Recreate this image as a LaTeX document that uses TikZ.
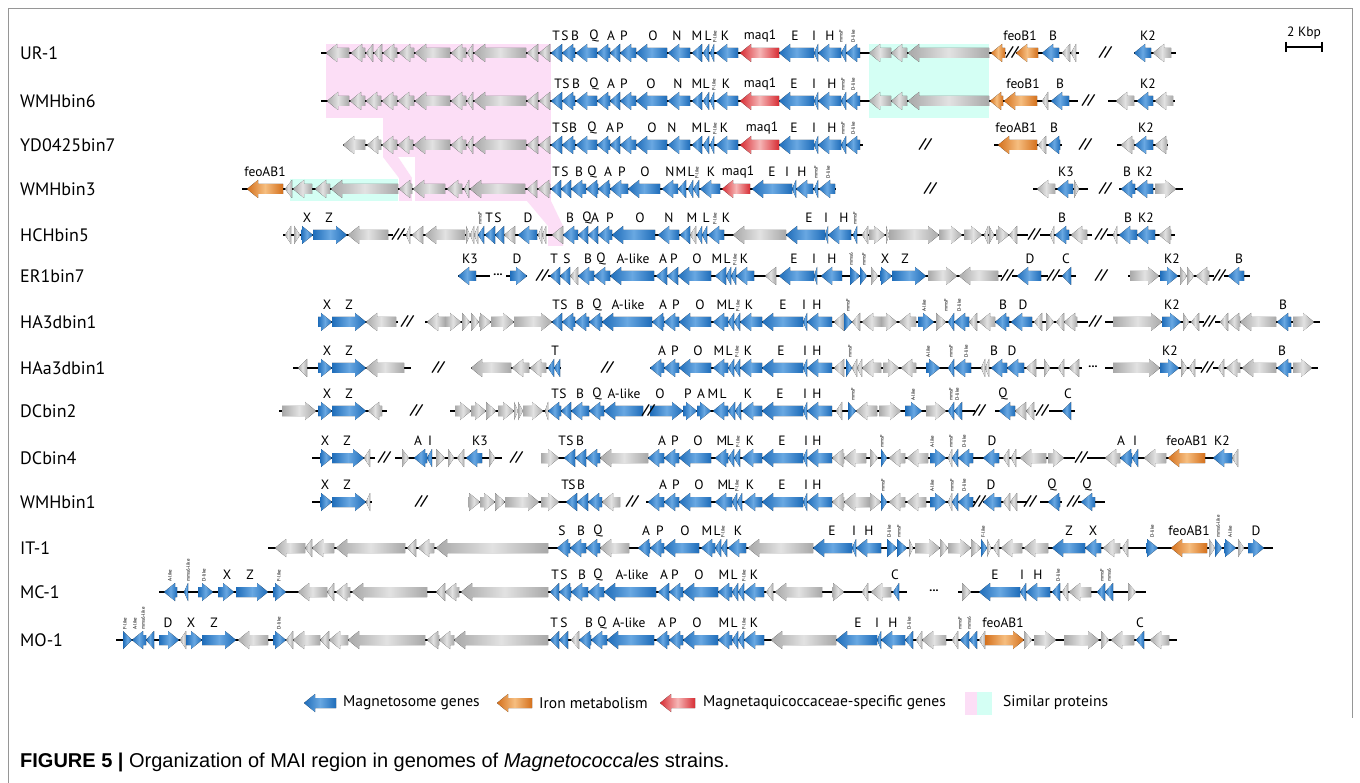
\documentclass[tikz,border=0pt]{standalone}
\usepackage{fontspec}
\setmainfont{PT Sans}
\newfontfamily\capfont{Liberation Sans}
\usepackage{tikz}

\definecolor{bluD}{RGB}{30,108,185}
\definecolor{bluL}{RGB}{105,168,226}
\definecolor{graD}{RGB}{168,168,168}
\definecolor{graL}{RGB}{226,226,226}
\definecolor{oraD}{RGB}{212,112,28}
\definecolor{oraL}{RGB}{246,190,128}
\definecolor{redD}{RGB}{215,45,52}
\definecolor{redL}{RGB}{246,182,182}
\definecolor{simP}{RGB}{252,222,246}
\definecolor{simC}{RGB}{212,255,244}
\definecolor{frameC}{RGB}{150,150,150}

% one gene arrow: y, x1, x2, direction (l/r), colour (B,G,O,R)
\newcommand{\genedraw}[5]{%
  \pgfmathsetmacro\gl{#3-#2}%
  \pgfmathsetmacro\gh{min(11,\gl)}%
  \if#4l%
    \ifdim\gl pt>11pt
      \fill[Gene#5] (#2,#1) -- (#2+\gh,#1-9) -- (#2+\gh,#1-5) -- (#3,#1-5)
        -- (#3,#1+5) -- (#2+\gh,#1+5) -- (#2+\gh,#1+9) -- cycle;
    \else
      \fill[Gene#5] (#2,#1) -- (#3,#1-9) -- (#3,#1+9) -- cycle;
    \fi
  \else
    \ifdim\gl pt>11pt
      \fill[Gene#5] (#3,#1) -- (#3-\gh,#1-9) -- (#3-\gh,#1-5) -- (#2,#1-5)
        -- (#2,#1+5) -- (#3-\gh,#1+5) -- (#3-\gh,#1+9) -- cycle;
    \else
      \fill[Gene#5] (#3,#1) -- (#2,#1-9) -- (#2,#1+9) -- cycle;
    \fi
  \fi}
\newcommand{\gene}[5]{\edef\gtmp{\noexpand\genedraw{#1}{#2}{#3}{#4}{#5}}\gtmp}

% shared magnetosome block of UR-1, WMHbin6, YD0425bin7
\def\maiblue{551/562/l/B, 562/575/l/B, 576/597/l/B, 597/610/l/B, 610/620/l/B,
  620/636/l/B, 636/667/l/B, 668/690/l/B, 692/702/l/B, 703/709/l/B, 710/714/l/B,
  716/738/l/B, 740/779/l/R, 779/814/l/B, 814/818/l/B, 818/841/l/B, 841/846/l/B,
  846/860/l/B}

\tikzset{
  GeneB/.style={left color=bluD, right color=bluD, middle color=bluL},
  GeneG/.style={left color=graD, right color=graD, middle color=graL},
  GeneO/.style={left color=oraD, right color=oraD, middle color=oraL},
  GeneR/.style={left color=redD, right color=redD, middle color=redL},
  LineStyle/.style={line width=2.5pt, black},
  GeneLabel/.style={font=\fontsize{13.5}{13.5}\selectfont, inner sep=0pt},
  TinyLabel/.style={font=\fontsize{5}{5}\selectfont, rotate=90, anchor=west, inner sep=0pt},
  StrainLabel/.style={font=\fontsize{18}{18}\selectfont, anchor=west, inner sep=0pt},
  BreakStyle/.style={font=\fontsize{14}{14}\selectfont\itshape\bfseries, inner sep=0pt},
  DotStyle/.style={font=\fontsize{12}{12}\selectfont\bfseries, inner sep=0pt},
  LegendText/.style={font=\fontsize{15.5}{15.5}\selectfont, anchor=west, inner sep=0pt}
}

\begin{document}
\begin{tikzpicture}[x=1pt, y=-1pt]
\useasboundingbox (0,0) rectangle (1360,783);
\fill[white] (0,0) rectangle (1360,783);

% frame
\draw[frameC, line width=1pt] (8.5,783) -- (8.5,8.5) -- (1352,8.5) -- (1352,718);

% similar proteins
\fill[simP] (326,44) rectangle (551,118);
\fill[simP] (383,118) rectangle (551,157);
\fill[simP] (383,157) -- (398,157) -- (412,178) -- (399,178) -- cycle;
\fill[simP] (415,157) rectangle (551,201);
\fill[simP] (399,178) rectangle (412,201);
\fill[simP] (527,201) -- (551,201) -- (563,226) -- (563,246) -- (548,246) -- (548,226) -- cycle;
\fill[simC] (869,44) rectangle (989,118);
\fill[simC] (290,179) rectangle (398,201);

% scale bar
\node[GeneLabel] (kbp) at (1304,33) {2 Kbp};
\draw[line width=1.2pt] (1286,47) -- (1322,47);
\draw[line width=1.2pt] (1286,42) -- (1286,52) (1322,42) -- (1322,52);

% UR-1
\node[StrainLabel] (UR1) at (20,53) {UR-1};
\foreach \a/\b in {321/1006, 1016/1079, 1134/1176} \draw[LineStyle] (\a,53) -- (\b,53);
\foreach \a/\b/\d/\c in {326/349/l/G, 351/365/l/G, 366/373/l/G, 374/382/l/G, 383/397/l/G,
  399/414/l/G, 415/450/l/G, 451/466/l/G, 467/473/l/G, 474/526/l/G, 527/538/l/G, 539/550/l/G,
  869/891/l/G, 891/907/l/G, 908/989/l/G, 991/1005/l/O, 1016/1038/l/O, 1042/1059/l/B,
  1062/1070/l/G, 1071/1076/l/G, 1134/1151/l/B, 1153/1171/l/G} \gene{53}{\a}{\b}{\d}{\c};
\foreach \a/\b/\d/\c in \maiblue \gene{53}{\a}{\b}{\d}{\c};
\foreach \x/\lab in {556/T, 565/S, 575/B, 594/Q, 611/A, 624/P, 653/O, 677/N, 697/M, 708/L,
  725/K, 760/maq1, 795/E, 814/I, 830/H, 1020/feoB1, 1053/B, 1148/K2}
  \node[GeneLabel] at (\x,36) {\lab};
\foreach \x/\lab in {715/F-like, 841/mmsF, 853/D-like} \node[TinyLabel] at (\x,43) {\lab};
\foreach \x in {1012, 1105} \node[BreakStyle] at (\x,53) {//};

% WMHbin6
\node[StrainLabel] (WMHbin6) at (20,101) {WMHbin6};
\foreach \a/\b in {321/1078, 1108/1175} \draw[LineStyle] (\a,101) -- (\b,101);
\foreach \a/\b/\d/\c in {327/349/l/G, 350/365/l/G, 366/381/l/G, 382/397/l/G, 398/414/l/G,
  415/450/l/G, 451/466/l/G, 467/473/l/G, 474/526/l/G, 527/538/l/G, 539/550/l/G,
  869/891/l/G, 891/907/l/G, 908/989/l/G, 990/1003/l/O, 1004/1037/l/O, 1042/1048/l/G,
  1051/1069/l/B, 1116/1134/l/G, 1137/1153/l/B, 1155/1173/l/G} \gene{101}{\a}{\b}{\d}{\c};
\foreach \a/\b/\d/\c in \maiblue \gene{101}{\a}{\b}{\d}{\c};
\foreach \x/\lab in {558/T, 566/S, 576/B, 594/Q, 611/A, 624/P, 651/O, 678/N, 697/M, 706/L,
  726/K, 760/maq1, 794/E, 814/I, 832/H, 1023/feoB1, 1060/B, 1148/K2}
  \node[GeneLabel] at (\x,84) {\lab};
\foreach \x/\lab in {714/F-like, 843/mmsF, 853/D-like} \node[TinyLabel] at (\x,91) {\lab};
\node[BreakStyle] at (1088,101) {//};

% YD0425bin7
\node[StrainLabel] (YD0425bin7) at (20,145) {YD0425bin7};
\foreach \a/\b in {343/863, 994/1062, 1117/1168} \draw[LineStyle] (\a,145) -- (\b,145);
\foreach \a/\b/\d/\c in {343/365/l/G, 367/381/l/G, 382/397/l/G, 398/413/l/G, 414/450/l/G,
  451/466/l/G, 467/473/l/G, 474/526/l/G, 527/538/l/G, 539/550/l/G, 998/1037/l/O,
  1038/1046/l/G, 1048/1060/l/B, 1121/1134/l/G, 1135/1153/l/B, 1155/1167/l/G}
  \gene{145}{\a}{\b}{\d}{\c};
\foreach \a/\b/\d/\c in \maiblue \gene{145}{\a}{\b}{\d}{\c};
\foreach \x/\lab in {556/T, 565/S, 573/B, 592/Q, 610/A, 620/P, 652/O, 672/N, 697/M, 707/L,
  724/K, 762/maq1, 794/E, 814/I, 832/H, 1016/feoAB1, 1054/B, 1146/K2}
  \node[GeneLabel] at (\x,128) {\lab};
\foreach \x/\lab in {715/F-like, 843/mmsF, 853/D-like} \node[TinyLabel] at (\x,135) {\lab};
\foreach \x in {925, 1085} \node[BreakStyle] at (\x,145) {//};

% WMHbin3
\node[StrainLabel] (WMHbin3) at (20,189) {WMHbin3};
\foreach \a/\b in {242/836, 1033/1088, 1119/1183} \draw[LineStyle] (\a,189) -- (\b,189);
\foreach \a/\b/\d/\c in {247/283/l/O, 285/292/l/G, 293/312/l/G, 315/330/l/G, 331/398/l/G,
  399/412/l/G, 413/445/l/G, 447/462/l/G, 464/469/l/G, 470/525/l/G, 527/537/l/G, 538/550/l/G,
  551/561/l/B, 561/571/l/B, 571/586/l/B, 586/598/l/B, 598/610/l/B, 610/628/l/B, 628/660/l/B,
  662/678/l/B, 678/686/l/B, 688/693/l/B, 693/699/l/B, 700/720/l/B, 722/750/l/R, 752/792/l/B,
  792/796/l/B, 796/813/l/B, 814/818/l/B, 819/835/l/B, 1037/1055/l/G, 1057/1073/l/B,
  1074/1079/r/G, 1121/1135/l/B, 1136/1153/l/B, 1155/1176/r/G} \gene{189}{\a}{\b}{\d}{\c};
\foreach \x/\lab in {265/feoAB1, 556/T, 565/S, 579/B, 592/Q, 608/A, 622/P, 645/O, 670/N,
  681/M, 691/L, 711/K, 738/maq1, 772/E, 787/I, 802/H, 1066/K3, 1127/B, 1145/K2}
  \node[GeneLabel] at (\x,172) {\lab};
\foreach \x/\lab in {697/F-like, 816/mmsF, 828/D-like} \node[TinyLabel] at (\x,179) {\lab};
\foreach \x in {930, 1105} \node[BreakStyle] at (\x,189) {//};

% HCHbin5
\node[StrainLabel] (HCHbin5) at (20,235) {HCHbin5};
\foreach \a/\b in {283/393, 403/1028, 1040/1092, 1107/1175} \draw[LineStyle] (\a,235) -- (\b,235);
\foreach \a/\b/\d/\c in {285/291/l/G, 294/300/r/G, 301/313/r/B, 313/347/r/B, 348/388/l/G,
  406/410/l/G, 412/423/l/G, 425/465/l/G, 466/470/r/G, 470/474/l/G, 474/478/l/G, 478/484/l/B,
  485/495/l/B, 495/504/l/B, 504/515/l/G, 518/537/l/B, 538/542/l/G, 542/546/l/G, 552/563/l/G,
  563/578/l/B, 578/588/l/B, 588/598/l/B, 598/612/l/B, 612/655/l/B, 658/679/l/B, 680/690/l/B,
  690/696/l/G, 697/702/l/B, 702/707/l/B, 708/724/l/B, 733/786/l/G, 786/825/l/B, 825/828/l/B,
  828/851/l/B, 853/857/l/B, 862/868/l/G, 869/885/r/G, 886/889/r/G, 889/939/r/G, 939/962/r/G,
  964/982/r/G, 984/988/l/G, 989/994/r/G, 996/1009/r/G, 1009/1017/l/G, 1050/1054/l/G,
  1055/1069/l/B, 1071/1087/l/G, 1113/1117/l/G, 1119/1137/l/B, 1137/1155/l/B, 1159/1171/l/G}
  \gene{235}{\a}{\b}{\d}{\c};
\foreach \x/\lab in {307/X, 329/Z, 489/T, 498/S, 528/D, 570/B, 587/Q, 595/A, 610/P, 640/O,
  669/N, 692/M, 706/L, 726/K, 809/E, 826/I, 844/H, 1062/B, 1128/B, 1146/K2}
  \node[GeneLabel] at (\x,218) {\lab};
\foreach \x/\lab in {480/mmsF, 715/F-like, 855/mmsF} \node[TinyLabel] at (\x,225) {\lab};
\foreach \x in {398, 1034, 1101} \node[BreakStyle] at (\x,235) {//};

% ER1bin7
\node[StrainLabel] (ER1bin7) at (20,276) {ER1bin7};
\foreach \a/\b in {458/490, 506/527, 548/1002, 1012/1048, 1058/1076, 1128/1214, 1224/1250}
  \draw[LineStyle] (\a,276) -- (\b,276);
\foreach \a/\b/\d/\c in {458/476/l/B, 510/527/r/B, 550/560/l/B, 560/570/l/B, 570/578/l/G,
  578/594/l/B, 594/610/l/B, 610/654/l/B, 656/667/l/B, 667/678/l/B, 678/711/l/B, 715/726/l/B,
  726/731/l/B, 731/736/l/B, 736/754/l/B, 765/776/l/G, 779/814/l/B, 814/817/l/B, 821/842/l/B,
  850/860/r/B, 860/867/r/B, 871/878/r/G, 880/892/r/B, 892/926/r/B, 928/957/r/G, 959/998/l/G,
  1017/1041/l/B, 1062/1071/l/B, 1130/1159/r/G, 1160/1178/r/B, 1180/1187/r/G, 1187/1194/r/G,
  1196/1209/l/G, 1228/1244/l/B} \gene{276}{\a}{\b}{\d}{\c};
\foreach \x/\lab in {470/K3, 517/D, 554/T, 567/S, 588/B, 601/Q, 633/A-like, 663/A, 674/P,
  697/O, 717/M, 727/L, 744/K, 794/E, 814/I, 832/H, 885/X, 905/Z, 1030/D, 1066/C, 1172/K2, 1239/B}
  \node[GeneLabel] at (\x,259) {\lab};
\foreach \x/\lab in {735/F-like, 851/mms6, 864/mmsF} \node[TinyLabel] at (\x,266) {\lab};
\node[DotStyle] at (498,275) {...};
\foreach \x in {542, 1007, 1053, 1101, 1219} \node[BreakStyle] at (\x,276) {//};

% HA3dbin1
\node[StrainLabel] (HA3dbin1) at (20,322) {HA3dbin1};
\foreach \a/\b in {318/398, 425/1088, 1105/1204, 1215/1320} \draw[LineStyle] (\a,322) -- (\b,322);
\foreach \a/\b/\d/\c in {318/332/r/B, 332/366/r/B, 366/396/l/G, 427/445/l/G, 445/461/r/G,
  462/470/r/G, 471/479/r/G, 479/491/r/G, 491/514/r/G, 514/552/r/G, 552/562/l/B, 562/575/l/B,
  575/589/l/B, 589/602/l/B, 602/652/l/B, 652/664/l/B, 664/679/l/B, 679/711/l/B, 713/728/l/B,
  728/734/l/B, 734/740/l/B, 740/762/l/B, 762/803/l/B, 803/807/l/B, 807/832/l/B, 834/844/l/G,
  844/852/r/B, 852/860/l/G, 862/881/l/G, 881/897/r/G, 899/916/l/G, 918/934/r/B, 936/946/r/G,
  948/954/l/B, 954/969/l/B, 969/977/l/G, 979/995/l/G, 995/1009/l/B, 1011/1032/l/B,
  1034/1042/l/G, 1046/1054/r/G, 1056/1064/l/G, 1064/1077/l/G, 1113/1162/r/G, 1162/1181/r/B,
  1183/1189/r/G, 1191/1199/l/G, 1220/1228/l/G, 1228/1240/l/G, 1240/1276/l/G, 1277/1291/l/B,
  1293/1314/r/G} \gene{322}{\a}{\b}{\d}{\c};
\foreach \x/\lab in {327/X, 349/Z, 556/T, 564/S, 580/B, 597/Q, 628/A-like, 663/A, 676/P,
  700/O, 722/M, 731/L, 749/K, 783/E, 804/I, 817/H, 1003/B, 1023/D, 1172/K2, 1283/B}
  \node[GeneLabel] at (\x,305) {\lab};
\foreach \x/\lab in {738/F-like, 848/mmsF, 924/A-like, 946/mmsF, 959/D-like}
  \node[TinyLabel] at (\x,312) {\lab};
\foreach \x in {407, 1095, 1209} \node[BreakStyle] at (\x,322) {//};

% HAa3dbin1
\node[StrainLabel] (HAa3dbin1) at (20,368) {HAa3dbin1};
\foreach \a/\b in {293/411, 471/561, 650/1082, 1105/1202, 1213/1318} \draw[LineStyle] (\a,368) -- (\b,368);
\foreach \a/\b/\d/\c in {298/307/l/G, 318/332/r/B, 332/366/r/B, 366/404/l/G, 471/511/l/G,
  512/529/l/G, 530/546/l/G, 548/554/l/B, 554/560/l/B, 650/664/l/B, 664/679/l/B, 679/711/l/B,
  713/728/l/B, 728/734/l/B, 734/740/l/B, 740/762/l/B, 762/803/l/B, 803/807/l/B, 807/832/l/B,
  834/844/l/G, 846/852/r/B, 852/857/l/G, 857/862/l/G, 862/881/l/G, 883/899/r/G, 901/916/l/G,
  926/940/r/B, 948/954/l/B, 954/971/l/B, 981/985/l/G, 985/989/l/G, 991/1007/l/B,
  1007/1024/l/B, 1026/1036/l/G, 1044/1050/r/G, 1058/1064/l/G, 1069/1079/l/G, 1113/1160/r/G,
  1160/1179/r/B, 1181/1187/r/G, 1189/1195/l/G, 1218/1224/l/G, 1226/1240/l/G, 1242/1276/l/G,
  1277/1291/l/B, 1293/1312/r/G} \gene{368}{\a}{\b}{\d}{\c};
\foreach \x/\lab in {327/X, 349/Z, 555/T, 662/A, 675/P, 698/O, 719/M, 729/L, 748/K, 781/E,
  805/I, 817/H, 994/B, 1012/D, 1170/K2, 1282/B}
  \node[GeneLabel] at (\x,351) {\lab};
\foreach \x/\lab in {737/F-like, 850/mmsF, 928/A-like, 951/mmsF, 966/D-like}
  \node[TinyLabel] at (\x,358) {\lab};
\node[DotStyle] at (1093,367) {...};
\foreach \x in {438, 607, 1207} \node[BreakStyle] at (\x,368) {//};

% DCbin2
\node[StrainLabel] (DCbin2) at (20,411) {DCbin2};
\foreach \a/\b in {279/387, 450/643, 653/975, 995/1036, 1049/1075} \draw[LineStyle] (\a,411) -- (\b,411);
\foreach \a/\b/\d/\c in {282/316/r/G, 318/332/r/B, 332/366/r/B, 368/382/l/G, 455/471/r/G,
  471/486/r/G, 486/496/r/G, 498/514/r/G, 514/518/r/G, 518/523/r/G, 523/543/r/G, 545/548/l/G,
  548/561/l/B, 561/571/l/B, 571/589/l/B, 589/604/l/B, 604/643/l/B, 650/683/r/B, 683/697/r/B,
  697/711/r/B, 713/728/l/B, 728/735/l/B, 735/741/l/B, 742/762/l/B, 762/803/l/B, 803/807/l/B,
  807/832/l/B, 836/842/l/G, 848/856/r/B, 856/877/l/G, 879/901/r/G, 905/922/r/B, 926/946/r/G,
  948/954/l/B, 954/962/l/B, 999/1015/l/B, 1015/1026/l/G, 1026/1034/l/G, 1062/1071/l/B}
  \gene{411}{\a}{\b}{\d}{\c};
\foreach \x/\lab in {327/X, 349/Z, 555/T, 563/S, 580/B, 597/Q, 624/A-like, 660/O, 688/P,
  701/A, 713/M, 723/L, 748/K, 780/E, 805/I, 817/H, 1003/Q, 1068/C}
  \node[GeneLabel] at (\x,394) {\lab};
\foreach \x/\lab in {853/mmsF, 913/A-like, 951/mmsF, 957/D-like} \node[TinyLabel] at (\x,401) {\lab};
\foreach \x in {416, 648, 979, 1042} \node[BreakStyle] at (\x,411) {//};

% DCbin4
\node[StrainLabel] (DCbin4) at (20,458) {DCbin4};
\foreach \a/\b in {312/375, 395/502, 541/1075, 1087/1238} \draw[LineStyle] (\a,458) -- (\b,458);
\foreach \a/\b/\d/\c in {320/332/r/B, 332/364/r/B, 364/370/l/G, 402/409/r/G, 414/427/l/B,
  427/432/l/B, 436/445/r/G, 448/454/r/G, 457/464/l/G, 466/482/l/B, 489/495/r/G, 541/559/r/G,
  564/575/l/B, 575/586/l/B, 586/600/l/B, 600/648/l/G, 648/664/l/B, 664/679/l/B, 679/711/l/B,
  715/728/l/B, 728/734/l/B, 734/740/l/B, 742/762/l/B, 762/803/l/B, 803/807/l/B, 807/832/l/B,
  832/844/l/G, 844/866/l/G, 870/878/r/G, 881/887/r/B, 889/905/l/G, 907/928/l/G, 930/946/r/B,
  948/952/l/G, 952/958/l/B, 958/973/l/B, 983/999/l/B, 1003/1009/l/G, 1011/1016/l/G,
  1020/1046/l/G, 1048/1064/r/G, 1105/1120/l/G, 1120/1132/l/B, 1132/1138/l/B, 1144/1166/l/G,
  1168/1205/l/O, 1213/1232/l/B, 1232/1238/l/G} \gene{458}{\a}{\b}{\d}{\c};
\foreach \x/\lab in {325/X, 347/Z, 418/A, 430/I, 480/K3, 562/T, 570/S, 580/B, 662/A, 675/P,
  698/O, 722/M, 730/L, 750/K, 782/E, 806/I, 817/H, 992/D, 1121/A, 1135/I, 1187/feoAB1, 1222/K2}
  \node[GeneLabel] at (\x,441) {\lab};
\foreach \x/\lab in {738/F-like, 882/mmsF, 932/A-like, 951/mmsF, 964/D-like}
  \node[TinyLabel] at (\x,448) {\lab};
\foreach \x in {384, 516, 1081} \node[BreakStyle] at (\x,458) {//};

% WMHbin1
\node[StrainLabel] (WMHbin1) at (20,502) {WMHbin1};
\foreach \a/\b in {312/372, 468/620, 646/975, 983/1027, 1040/1062, 1078/1105}
  \draw[LineStyle] (\a,502) -- (\b,502);
\foreach \a/\b/\d/\c in {320/332/r/B, 332/366/r/B, 366/370/l/G, 468/480/r/G, 480/495/r/G,
  495/505/r/G, 505/539/r/G, 541/559/r/G, 566/577/l/B, 577/588/l/B, 588/602/l/B, 602/620/l/G,
  648/664/l/B, 664/679/l/B, 679/711/l/B, 715/732/l/B, 732/737/l/B, 737/742/l/B, 744/762/l/B,
  762/803/l/B, 803/807/l/B, 807/832/l/B, 832/844/l/G, 844/869/l/G, 869/881/r/G, 881/887/r/B,
  889/905/l/G, 907/926/l/G, 930/946/r/B, 948/952/l/G, 952/958/l/B, 958/973/l/B, 983/1001/l/B,
  1003/1010/l/G, 1010/1017/l/G, 1048/1060/l/B, 1081/1095/l/B} \gene{502}{\a}{\b}{\d}{\c};
\foreach \x/\lab in {325/X, 347/Z, 565/T, 572/S, 581/B, 663/A, 676/P, 699/O, 723/M, 731/L,
  750/K, 782/E, 806/I, 817/H, 991/D, 1052/Q, 1087/Q}
  \node[GeneLabel] at (\x,485) {\lab};
\foreach \x/\lab in {737/F-like, 883/mmsF, 932/A-like, 952/mmsF, 964/D-like}
  \node[TinyLabel] at (\x,492) {\lab};
\foreach \x in {421, 632, 979, 1030, 1073} \node[BreakStyle] at (\x,502) {//};

% IT-1
\node[StrainLabel] (IT1) at (20,548) {IT-1};
\draw[LineStyle] (268,548) -- (1273,548);
\foreach \a/\b/\d/\c in {275/305/l/G, 305/312/l/G, 312/334/l/G, 336/405/l/G, 407/416/l/G,
  418/434/l/G, 436/548/l/G, 557/570/l/B, 570/586/l/B, 586/600/l/B, 600/629/l/G, 638/650/l/B,
  650/664/l/B, 664/699/l/B, 701/715/l/B, 715/721/l/B, 721/727/l/B, 728/746/l/B, 748/813/l/G,
  813/852/l/B, 852/856/l/B, 856/881/l/B, 887/897/r/B, 897/907/r/B, 909/913/r/G, 915/940/r/G,
  940/948/r/G, 948/971/r/G, 971/981/r/G, 981/987/r/B, 987/991/r/G, 993/999/l/G, 1001/1022/l/G,
  1024/1048/l/G, 1052/1085/l/B, 1085/1101/l/B, 1103/1120/l/G, 1122/1128/l/G, 1146/1158/r/B,
  1171/1207/l/O, 1209/1215/r/G, 1215/1222/r/B, 1224/1236/r/B, 1238/1244/r/G, 1248/1264/r/B}
  \gene{548}{\a}{\b}{\d}{\c};
\foreach \x/\lab in {562/S, 581/B, 598/Q, 646/A, 660/P, 685/O, 707/M, 717/L, 738/K, 832/E,
  854/I, 869/H, 1069/Z, 1093/X, 1189/feoAB1, 1256/D}
  \node[GeneLabel] at (\x,531) {\lab};
\foreach \x/\lab in {723/F-like, 889/D-like, 899/mmsF, 983/F-like, 1152/D-like, 1218/mms6-like,
  1230/A-like} \node[TinyLabel] at (\x,538) {\lab};

% MC-1
\node[StrainLabel] (MC1) at (20,592) {MC-1};
\foreach \a/\b in {159/907, 958/1146} \draw[LineStyle] (\a,592) -- (\b,592);
\foreach \a/\b/\d/\c in {164/177/l/B, 184/188/l/B, 198/213/r/B, 218/234/r/B, 236/268/r/B,
  273/286/r/B, 298/327/l/G, 327/334/l/G, 336/350/l/G, 352/427/l/G, 436/445/l/G, 445/459/l/G,
  461/548/l/G, 550/559/l/B, 559/571/l/B, 571/588/l/B, 588/604/l/B, 604/656/l/B, 658/669/l/B,
  669/683/l/B, 683/718/l/B, 718/732/l/B, 732/738/l/B, 738/744/l/B, 744/764/l/B, 766/773/l/G,
  775/822/l/G, 832/844/r/G, 862/868/l/G, 871/891/l/G, 893/899/l/B, 962/971/r/G, 979/1020/l/B,
  1020/1026/l/B, 1026/1050/l/B, 1052/1060/l/B, 1062/1068/l/G, 1069/1091/l/G, 1097/1105/l/B,
  1105/1113/l/B, 1128/1136/r/G} \gene{592}{\a}{\b}{\d}{\c};
\foreach \x/\lab in {227/X, 250/Z, 555/T, 564/S, 582/B, 598/Q, 632/A-like, 664/A, 675/P,
  699/O, 724/M, 734/L, 754/K, 895/C, 995/E, 1022/I, 1038/H}
  \node[GeneLabel] at (\x,575) {\lab};
\foreach \x/\lab in {170/A-like, 188/mms6-like, 204/D-like, 279/F-like, 744/F-like,
  1058/D-like, 1102/mmsF, 1109/mms6} \node[TinyLabel] at (\x,582) {\lab};
\node[DotStyle] at (934,591) {...};

% MO-1
\node[StrainLabel] (MO1) at (20,640) {MO-1};
\draw[LineStyle] (116,640) -- (1177,640);
\foreach \a/\b/\d/\c in {123/132/r/B, 132/146/l/B, 146/154/l/B, 159/179/r/B, 180/186/l/G,
  186/202/r/B, 202/236/r/B, 238/268/l/G, 273/286/r/B, 286/293/l/G, 293/320/l/G, 320/329/l/G,
  329/348/l/G, 348/425/l/G, 427/439/l/G, 439/454/l/G, 454/548/l/G, 550/559/l/B, 559/568/l/B,
  571/579/l/G, 579/591/l/B, 591/607/l/B, 607/654/l/B, 656/669/l/B, 669/683/l/B, 683/718/l/B,
  718/732/l/B, 732/738/l/B, 738/744/l/B, 744/764/l/B, 771/836/l/G, 836/877/l/B, 877/881/l/B,
  881/905/l/B, 905/913/l/B, 916/922/l/G, 922/946/l/G, 952/958/l/G, 960/969/l/B, 969/977/l/B,
  979/985/l/G, 985/1024/r/O, 1024/1032/r/G, 1034/1056/r/G, 1064/1099/r/G, 1101/1109/r/G,
  1111/1134/l/G, 1136/1144/l/B, 1150/1169/l/G} \gene{640}{\a}{\b}{\d}{\c};
\foreach \x/\lab in {168/D, 191/X, 214/Z, 554/T, 564/S, 589/B, 602/Q, 629/A-like, 662/A,
  673/P, 697/O, 724/M, 734/L, 754/K, 858/E, 877/I, 893/H, 1003/feoAB1, 1140/C}
  \node[GeneLabel] at (\x,623) {\lab};
\foreach \x/\lab in {125/F-like, 135/A-like, 143/mms6-like, 279/D-like, 744/F-like,
  909/D-like, 960/mmsF, 969/mms6} \node[TinyLabel] at (\x,630) {\lab};

% legend
\gene{703}{304}{336}{l}{B}
\node[LegendText] (lgMag) at (343,703) {Magnetosome genes};
\gene{703}{497}{532}{l}{O}
\node[LegendText] (lgIron) at (539,703) {Iron metabolism};
\gene{703}{660}{695}{l}{R}
\node[LegendText] (lgMaq) at (703,703) {Magnetaquicoccaceae-specific genes};
\fill[simP] (965,692) rectangle (977,715);
\fill[simC] (977,692) rectangle (992,715);
\node[LegendText] (lgSim) at (1003,703) {Similar proteins};

% caption
\node[anchor=west, inner sep=0pt, font=\capfont\fontsize{20}{20}\selectfont] (caption) at (20,762)
  {\textbf{FIGURE 5 |} Organization of MAI region in genomes of \textit{Magnetococcales} strains.};
\end{tikzpicture}
\end{document}
